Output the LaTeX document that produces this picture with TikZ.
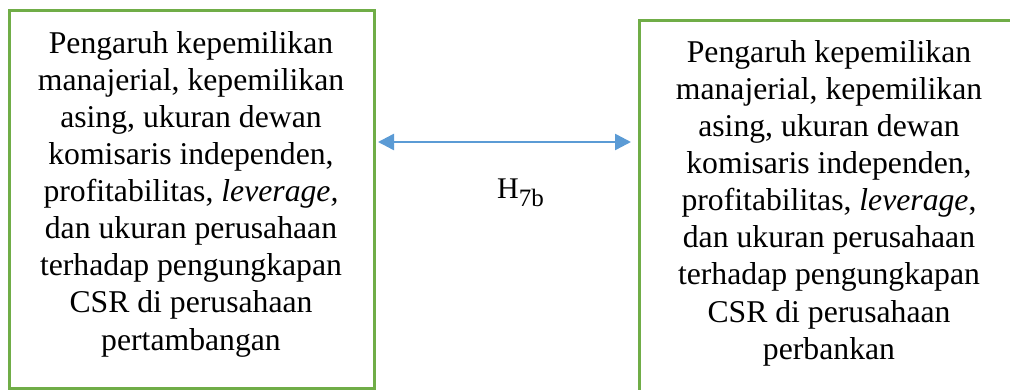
\documentclass[tikz,border=0pt]{standalone}
\usepackage{fontspec}
\setmainfont{Liberation Serif}
\usetikzlibrary{arrows.meta}
\definecolor{boxgreen}{RGB}{112,173,71}
\definecolor{arrowblue}{RGB}{91,155,213}
\begin{document}
\begin{tikzpicture}[x=1pt,y=-1pt,
  frame/.style={draw=boxgreen, line width=3pt, rectangle, inner sep=0pt},
  body/.style={align=center, inner sep=0pt, font=\fontsize{31.7}{37.1}\selectfont},
  link/.style={draw=arrowblue, line width=2.5pt,
    {Triangle[length=16pt,width=16pt]}-{Triangle[length=16pt,width=16pt]}}]
\useasboundingbox (0,0) rectangle (1010,390);
% left box: mining companies
\node[frame, minimum width=364.5pt, minimum height=378pt] (lbox) at (191.75,199.5) {};
\node[body] (ltext) at (191,194.1)
  {Pengaruh kepemilikan\\manajerial, kepemilikan\\asing, ukuran dewan\\komisaris independen,\\profitabilitas, \textit{leverage,}\\dan ukuran perusahaan\\terhadap pengungkapan\\CSR di perusahaan\\pertambangan};
% right box: banks
\node[frame, minimum width=380pt, minimum height=378pt] (rbox) at (829.5,209.5) {};
\node[body] (rtext) at (829,203.1)
  {Pengaruh kepemilikan\\manajerial, kepemilikan\\asing, ukuran dewan\\komisaris independen,\\profitabilitas, \textit{leverage},\\dan ukuran perusahaan\\terhadap pengungkapan\\CSR di perusahaan\\perbankan};
% two-headed comparison arrow between the boxes
\coordinate (a) at (378,142);
\coordinate (b) at (631,142);
\draw[link] (a) -- (b);
\node[anchor=base west, inner sep=0pt, font=\fontsize{30}{36}\selectfont] (h) at (497,199)
  {H\raisebox{-8pt}{\fontsize{25}{30}\selectfont 7b}};
\end{tikzpicture}
\end{document}
